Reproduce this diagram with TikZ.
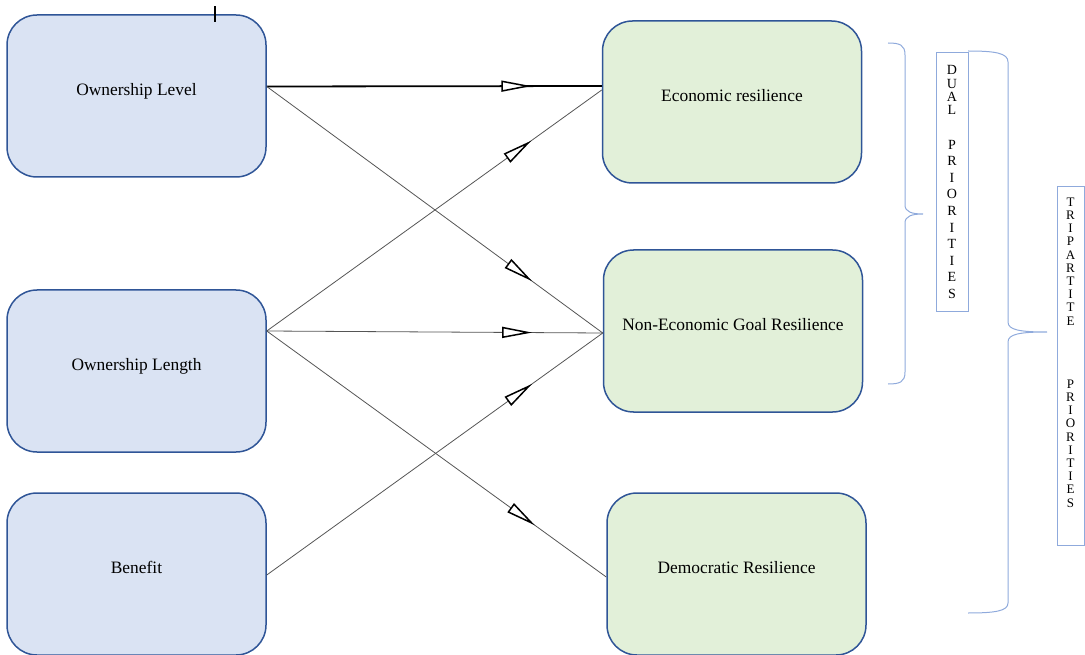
\documentclass[tikz,border=0pt]{standalone}
\usepackage{fontspec}
\setmainfont{Liberation Serif}
\usetikzlibrary{arrows.meta,positioning,decorations.markings}

\definecolor{boxline}{HTML}{2F5597}
\definecolor{bluefill}{HTML}{DAE3F3}
\definecolor{greenfill}{HTML}{E2F0D9}
\definecolor{bracecol}{HTML}{8FAADC}
\definecolor{thinline}{HTML}{555555}

\begin{document}
\begin{tikzpicture}[x=1pt,y=-1pt,
    factor/.style={draw=boxline,line width=1.5pt,fill=bluefill,rounded corners=30pt,
        minimum width=259pt,minimum height=162pt,text height=12pt,text depth=13pt,
        font=\fontsize{17.4}{20}\selectfont},
    outcome/.style={factor,fill=greenfill},
    link/.style={draw=thinline,line width=0.8pt,postaction={decorate},
        decoration={markings,mark=at position 0.79 with
        {\arrow{Triangle[length=30pt,width=11pt,fill=white,color=black,line width'=1.5pt]}}}},
    mainlink/.style={link,draw=black,line width=1.8pt},
    prioritybox/.style={draw=bracecol,line width=1pt,inner sep=0pt},
    letters/.style={inner sep=0pt,align=center,font=\fontsize{14}{16.6}\selectfont},
    brace/.style={draw=bracecol,line width=1pt}]
    \useasboundingbox (0,0) rectangle (1085,655);

    % factors
    \node[factor] (OL) at (136.5,96) {Ownership Level};
    \node[factor] (OLen) at (136.5,371) {Ownership Length};
    \node[factor] (Ben) at (136.5,574) {Benefit};
    % outcomes
    \node[outcome] (EC) at (732,102) {Economic resilience};
    \node[outcome] (NE) at (733,331) {Non-Economic Goal Resilience};
    \node[outcome] (DR) at (736.5,574) {Democratic Resilience};

    \draw[line width=1.2pt] ([xshift=78.5pt,yshift=8pt]OL.north) -- ([xshift=78.5pt,yshift=-8pt]OL.north);

    \coordinate (OLout) at ([yshift=9.5pt]OL.east);
    \coordinate (OLenout) at ([yshift=40pt]OLen.east);
    \coordinate (Benout) at ([yshift=-1pt]Ben.east);
    \coordinate (ECin) at ([yshift=16pt]EC.west);
    \coordinate (ECin2) at ([yshift=12pt]EC.west);
    \coordinate (NEin) at ([yshift=-2pt]NE.west);
    \coordinate (DRin) at ([yshift=-3pt]DR.west);

    \draw[mainlink] (OLout)--(ECin);
    \draw[link] (OLout)--(NEin);
    \draw[link] (OLenout)--(ECin2);
    \draw[link] (OLenout)--(NEin);
    \draw[link] (OLenout)--(DRin);
    \draw[link] (Benout)--(NEin);

    % priorities
    \node[prioritybox,minimum width=32pt,minimum height=259pt] (DPbox) at (952,182.5) {};
    \node[letters,below=13pt of DPbox.north] (DP) {D\\[-3.3pt]U\\[-3.3pt]A\\[-3.3pt]L\\[17.7pt]P\\R\\I\\O\\R\\I\\T\\I\\E\\S};
    \node[prioritybox,minimum width=27pt,minimum height=358pt] (TPbox) at (1070.5,366) {};
    \node[letters,font=\fontsize{13}{13.2}\selectfont,below=11pt of TPbox.north] (TP)
        {T\\R\\I\\P\\A\\R\\T\\I\\T\\E\\[50pt]P\\R\\I\\O\\R\\I\\T\\I\\E\\S};

    \draw[brace] (888,43) .. controls (900,43) and (905,45) .. (905,55) -- (905,205)
        .. controls (905,212) and (912,214) .. (923,214) .. controls (912,214) and (905,216) .. (905,223)
        -- (905,372) .. controls (905,382) and (900,384) .. (888,384);
    \draw[brace] (968,51) .. controls (995,51) and (1008,53) .. (1008,62) -- (1008,322)
        .. controls (1008,330) and (1020,332) .. (1047,332) .. controls (1020,332) and (1008,334) .. (1008,342)
        -- (1008,603) .. controls (1008,611) and (995,613) .. (968,613);
\end{tikzpicture}
\end{document}
